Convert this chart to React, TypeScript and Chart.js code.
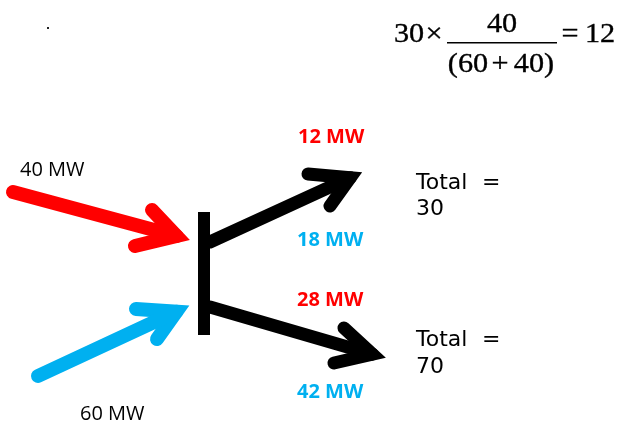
import React, { useEffect, useRef } from "react";
import { Chart, registerables } from "chart.js";

Chart.register(...registerables);

// ---- data ----
const inputNames = ["40 MW", "60 MW"];
const inputValues = [40, 60];
const outputTotals = [30, 70];
const splitRed = [12, 28];
const splitBlue = [18, 42];

// arrow geometry in diagram units (tail, tip, barbA, barbB)
const redArrow = [
  { x: 13, y: 192 },
  { x: 191, y: 240 },
  { x: 152, y: 210 },
  { x: 135, y: 246 },
];
const blueArrow = [
  { x: 38, y: 376 },
  { x: 191, y: 305 },
  { x: 136, y: 309 },
  { x: 157, y: 339 },
];
const upArrow = [
  { x: 210, y: 242 },
  { x: 363, y: 172 },
  { x: 308, y: 174 },
  { x: 330, y: 206 },
];
const downArrow = [
  { x: 210, y: 307 },
  { x: 387, y: 358 },
  { x: 344, y: 328 },
  { x: 334, y: 363 },
];
const busBar = [
  { x: 204, y: 212 },
  { x: 204, y: 335 },
];

const RED = "#ff0000";
const BLUE = "#00b0f0";
const BLACK = "#000000";

type P = { x: number; y: number };

const textPlugin = {
  id: "diagramText",
  afterDatasetsDraw(chart: any) {
    const { ctx } = chart;
    const xs = chart.scales.x;
    const ys = chart.scales.y;
    const px = (v: number) => xs.getPixelForValue(v);
    const py = (v: number) => ys.getPixelForValue(v);
    ctx.save();
    ctx.textBaseline = "alphabetic";

    // small dot
    ctx.fillStyle = "#222";
    ctx.fillRect(px(47), py(27), 2, 2);

    // formula
    const serif = "27px 'Liberation Serif', 'Times New Roman', serif";
    const stretch = (t: string, cx: number, by: number) => {
      ctx.save();
      ctx.translate(px(cx), py(by));
      ctx.scale(1.12, 1);
      ctx.textAlign = "center";
      ctx.fillText(t, 0, 0);
      ctx.strokeStyle = BLACK;
      ctx.lineWidth = 0.35;
      ctx.strokeText(t, 0, 0);
      ctx.restore();
    };
    ctx.fillStyle = BLACK;
    ctx.font = serif;
    stretch(String(outputTotals[0]), 409, 42);
    stretch("\u00d7", 434, 42);
    stretch(String(inputValues[0]), 502, 32);
    ctx.fillRect(px(447), py(42), px(557) - px(447), 1.5);
    stretch("(" + inputValues[1], 468, 72);
    stretch("+", 500, 72);
    stretch(inputValues[0] + ")", 534, 72);
    stretch("=", 570, 42);
    stretch(String(splitRed[0]), 600, 42);

    // input labels
    ctx.textAlign = "left";
    ctx.font = "20px 'Open Sans', 'Noto Sans', sans-serif";
    ctx.fillStyle = BLACK;
    ctx.fillText(inputNames[0], px(20), py(176));
    ctx.fillText(inputNames[1], px(80), py(420));

    // split labels
    ctx.font = "bold 20px 'Open Sans', 'Noto Sans', sans-serif";
    ctx.fillStyle = RED;
    ctx.fillText(splitRed[0] + " MW", px(298), py(143));
    ctx.fillText(splitRed[1] + " MW", px(297), py(306));
    ctx.fillStyle = BLUE;
    ctx.fillText(splitBlue[0] + " MW", px(297), py(246));
    ctx.fillText(splitBlue[1] + " MW", px(297), py(398));

    // totals
    ctx.font = "22px 'DejaVu Sans', Verdana, sans-serif";
    ctx.fillStyle = BLACK;
    ctx.fillText("Total", px(416), py(189));
    ctx.fillText("=", px(482), py(189));
    ctx.fillText(String(outputTotals[0]), px(416), py(215));
    ctx.fillText("Total", px(416), py(346));
    ctx.fillText("=", px(482), py(346));
    ctx.fillText(String(outputTotals[1]), px(416), py(373));
    ctx.restore();
  },
};

export default function App() {
  const ref = useRef<HTMLCanvasElement>(null);
  useEffect(() => {
    if (!ref.current) return;
    const lineDs = (data: any[], color: string, w: number, cap: string, join: string) => ({
      data,
      borderColor: color,
      backgroundColor: color,
      borderWidth: w,
      borderCapStyle: cap as any,
      borderJoinStyle: join as any,
      pointRadius: 0,
      fill: false,
      tension: 0,
    });
    // pointed head: pull only the tip vertex back along the bisector so the mitre lands on the tip
    const arrow = (a: P[], color: string, w: number) => {
      const [tail, tip, ba, bb] = a;
      const ang = (p: P) => Math.atan2(p.y - tip.y, p.x - tip.x);
      let d = Math.abs(ang(ba) - ang(bb));
      if (d > Math.PI) d = 2 * Math.PI - d;
      const back = (w / 2 / Math.sin(d / 2)) * 0.8;
      const ax = (ba.x - tip.x) / Math.hypot(ba.x - tip.x, ba.y - tip.y);
      const ay = (ba.y - tip.y) / Math.hypot(ba.x - tip.x, ba.y - tip.y);
      const bx = (bb.x - tip.x) / Math.hypot(bb.x - tip.x, bb.y - tip.y);
      const by = (bb.y - tip.y) / Math.hypot(bb.x - tip.x, bb.y - tip.y);
      const m = Math.hypot(ax + bx, ay + by);
      const inner = { x: tip.x + ((ax + bx) / m) * back, y: tip.y + ((ay + by) / m) * back };
      return [
        lineDs([tail, inner], color, w, "round", "round"),
        lineDs([ba, inner, bb], color, w, "round", "miter"),
      ];
    };
    const chart = new Chart(ref.current, {
      type: "line",
      data: {
        datasets: [
          ...arrow(redArrow, RED, 14),
          ...arrow(blueArrow, BLUE, 14),
          ...arrow(upArrow, BLACK, 13),
          ...arrow(downArrow, BLACK, 13),
          lineDs(busBar, BLACK, 12, "butt", "miter"),
        ] as any,
      },
      options: {
        animation: false,
        responsive: false,
        maintainAspectRatio: false,
        layout: { padding: 0 },
        plugins: { legend: { display: false }, tooltip: { enabled: false } },
        events: [],
        scales: {
          x: { type: "linear", min: 0, max: 617, display: false },
          y: { type: "linear", min: 0, max: 424, reverse: true, display: false },
        },
      },
      plugins: [textPlugin],
    });
    return () => chart.destroy();
  }, []);
  return (
    <div style={{ position: "absolute", left: 0, top: 0, width: 617, height: 424, background: "#fff" }}>
      <canvas ref={ref} width={617} height={424} style={{ width: 617, height: 424 }} />
    </div>
  );
}
